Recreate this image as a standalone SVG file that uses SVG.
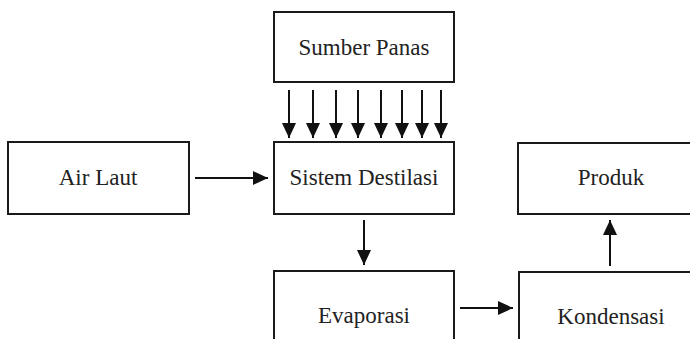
<svg xmlns="http://www.w3.org/2000/svg" width="690" height="339" viewBox="0 0 690 339">
<style>
.box{fill:#fff;stroke:#1a1a1a;stroke-width:2}
.lbl{font-family:'Liberation Serif','Tinos','DejaVu Serif',serif;font-size:23px;fill:#222;text-anchor:middle}
.con{stroke:#111;stroke-width:2;fill:none;marker-end:url(#ah)}
</style>
<defs>
<marker id="ah" markerUnits="userSpaceOnUse" markerWidth="16" markerHeight="16" refX="15" refY="7" orient="auto" viewBox="0 0 16 14">
<path d="M0,0 L15,7 L0,14 Z" fill="#111"/>
</marker>
</defs>
<rect width="690" height="339" fill="#fff"/>
<g id="sumber-panas"><rect class="box" x="274" y="12" width="180" height="70"/><text class="lbl" x="364" y="55">Sumber Panas</text></g>
<g id="air-laut"><rect class="box" x="8" y="142" width="181" height="72"/><text class="lbl" x="98" y="185">Air Laut</text></g>
<g id="sistem-destilasi"><rect class="box" x="274" y="142" width="180" height="72"/><text class="lbl" x="364" y="185">Sistem Destilasi</text></g>
<g id="produk"><rect class="box" x="518" y="143" width="190" height="71"/><text class="lbl" x="611" y="185">Produk</text></g>
<g id="evaporasi"><rect class="box" x="274" y="271" width="180" height="80"/><text class="lbl" x="364" y="323">Evaporasi</text></g>
<g id="kondensasi"><rect class="box" x="519" y="272" width="190" height="80"/><text class="lbl" x="611" y="324">Kondensasi</text></g>
<g id="connectors">
<path class="con" d="M289,90V138"/>
<path class="con" d="M313,90V138"/>
<path class="con" d="M336,90V138"/>
<path class="con" d="M358,90V138"/>
<path class="con" d="M381,90V138"/>
<path class="con" d="M402,90V138"/>
<path class="con" d="M422,90V138"/>
<path class="con" d="M441,90V138"/>
<path class="con" d="M195,178H268"/>
<path class="con" d="M364,220V265"/>
<path class="con" d="M460,308H513"/>
<path class="con" d="M610,266V220"/>
</g>
</svg>
